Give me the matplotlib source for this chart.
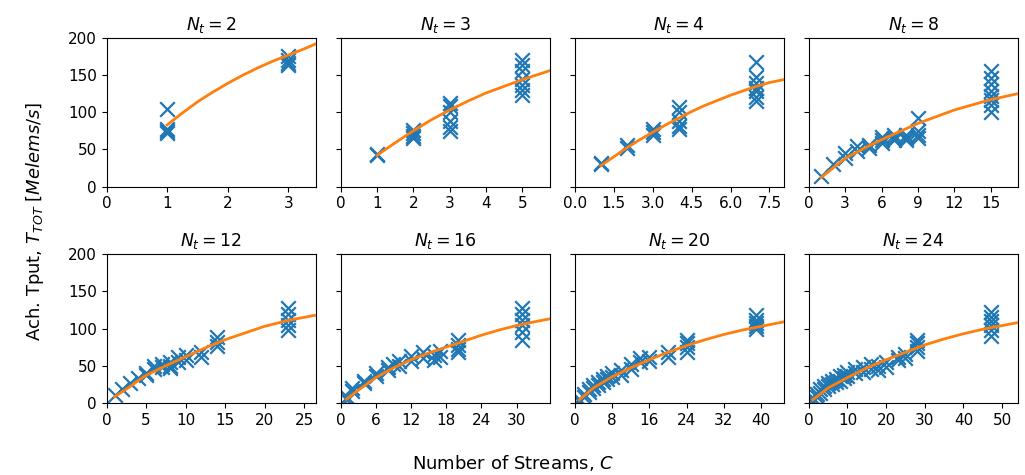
import matplotlib
matplotlib.use("Agg")
import matplotlib.pyplot as plt

# ---- data ----
threads = [2, 3, 4, 8, 12, 16, 20, 24]

C_nt2 = [1, 1, 1, 1, 3, 3, 3, 3]
T_nt2 = [104, 78, 75, 72, 176, 170, 166, 163]

C_nt3 = [1, 1, 2, 2, 2, 2, 3, 3, 3, 3, 3, 3, 5, 5, 5, 5, 5, 5, 5]
T_nt3 = [44, 42, 76, 72, 68, 65, 112, 108, 100, 88, 80, 75, 170, 163, 155, 145, 137, 130, 123]

C_nt4 = [1, 1, 2, 2, 3, 3, 3, 4, 4, 4, 4, 4, 7, 7, 7, 7, 7, 7, 7]
T_nt4 = [32, 30, 56, 52, 77, 73, 70, 107, 100, 88, 82, 78, 168, 148, 140, 133, 128, 120, 115]

C_nt8 = [1, 2, 3, 3, 4, 4, 5, 5, 6, 6, 6, 7, 7, 7, 8, 8, 8, 9, 9, 9, 9,
         15, 15, 15, 15, 15, 15, 15, 15]
T_nt8 = [14, 30, 45, 38, 54, 48, 56, 52, 67, 62, 59, 70, 66, 63, 70, 66, 62, 92, 75, 70, 65,
         155, 146, 138, 128, 122, 116, 110, 100]

C_nt12 = [1, 2, 3, 4, 5, 5, 6, 6, 7, 7, 8, 8, 8, 9, 9, 10, 10, 12, 12, 14, 14, 14,
          23, 23, 23, 23, 23]
T_nt12 = [10, 18, 27, 33, 40, 38, 50, 45, 52, 48, 55, 50, 47, 62, 55, 64, 58, 68, 62, 88, 82, 76,
          128, 120, 112, 105, 98]

C_nt16 = [1, 1, 2, 2, 4, 4, 6, 6, 8, 8, 9, 10, 10, 12, 12, 14, 14, 16, 16, 17, 17,
          20, 20, 20, 20, 31, 31, 31, 31, 31, 31]
T_nt16 = [8, 4, 20, 16, 30, 26, 40, 36, 48, 44, 52, 56, 50, 63, 56, 68, 60, 65, 58, 70, 62,
          85, 78, 72, 68, 128, 120, 112, 105, 95, 85]

C_nt20 = [1, 1, 2, 2, 3, 3, 4, 4, 5, 5, 6, 6, 7, 7, 8, 8, 10, 10, 12, 12, 14, 14, 16, 16,
          20, 20, 24, 24, 24, 24, 39, 39, 39, 39, 39]
T_nt20 = [5, 2, 12, 8, 18, 14, 24, 20, 28, 24, 32, 28, 36, 32, 40, 35, 44, 38, 52, 46, 60, 55,
          62, 56, 68, 62, 85, 80, 75, 68, 118, 112, 108, 104, 100]

C_nt24 = [1, 1, 2, 2, 3, 3, 4, 4, 5, 5, 6, 6, 7, 7, 8, 8, 9, 9, 10, 10, 12, 12, 14, 14,
          16, 16, 18, 18, 20, 20, 23, 23, 25, 25, 28, 28, 28, 28,
          47, 47, 47, 47, 47, 47]
T_nt24 = [6, 3, 12, 8, 18, 13, 22, 18, 26, 22, 30, 25, 32, 28, 36, 30, 38, 34, 42, 36,
          46, 40, 48, 42, 52, 46, 50, 44, 55, 48, 62, 58, 66, 60, 85, 80, 75, 70,
          122, 116, 110, 105, 98, 90]

# fitted curves
fitC_nt2 = [1, 1.25, 1.5, 1.75, 2, 2.25, 2.5, 2.75, 3, 3.25, 3.45]
fitT_nt2 = [83, 99, 114, 127, 139, 150, 160, 169, 177, 185, 192]
fitC_nt3 = [1, 1.5, 2, 2.5, 3, 3.5, 4, 4.5, 5, 5.5, 5.75]
fitT_nt3 = [42, 59, 75, 90, 103, 115, 126, 135, 144, 152, 156]
fitC_nt4 = [1, 1.5, 2, 2.5, 3, 3.5, 4, 4.5, 5, 5.5, 6, 6.5, 7, 7.5, 8.05]
fitT_nt4 = [28, 40, 52, 63, 73, 83, 92, 101, 109, 116, 123, 129, 135, 140, 144]
fitC_nt8 = [1, 2, 3, 4.5, 6, 7.5, 9, 10.5, 12, 13.5, 15, 17.25]
fitT_nt8 = [12, 25, 38, 51, 63, 74, 85, 94, 103, 110, 117, 125]
fitC_nt12 = [1, 2, 3, 4, 5, 7.5, 10, 12.5, 15, 17.5, 20, 23, 26.45]
fitT_nt12 = [8, 15, 22, 30, 37, 50, 62, 74, 85, 94, 103, 111, 118]
fitC_nt16 = [1, 3, 6, 9, 12, 15, 18, 21, 24, 27, 30, 33, 35.65]
fitT_nt16 = [5, 17, 34, 47, 58, 67, 75, 83, 91, 98, 104, 109, 113]
fitC_nt20 = [1, 4, 8, 12, 16, 20, 24, 28, 32, 36, 40, 44.85]
fitT_nt20 = [4, 20, 35, 47, 58, 68, 77, 85, 92, 98, 103, 109]
fitC_nt24 = [1, 5, 10, 15, 20, 25, 30, 35, 40, 45, 50, 54.05]
fitT_nt24 = [4, 20, 34, 47, 58, 68, 78, 86, 93, 99, 104, 108]

xlims = [3.45, 5.75, 8.05, 17.25, 26.45, 35.65, 44.85, 54.05]
xticks = [[0, 1, 2, 3], [0, 1, 2, 3, 4, 5], [0.0, 1.5, 3.0, 4.5, 6.0, 7.5],
          [0, 3, 6, 9, 12, 15], [0, 5, 10, 15, 20, 25], [0, 6, 12, 18, 24, 30],
          [0, 8, 16, 24, 32, 40], [0, 10, 20, 30, 40, 50]]
yticks = [0, 50, 100, 150, 200]

scatter_data = [(C_nt2, T_nt2), (C_nt3, T_nt3), (C_nt4, T_nt4), (C_nt8, T_nt8),
                (C_nt12, T_nt12), (C_nt16, T_nt16), (C_nt20, T_nt20), (C_nt24, T_nt24)]
fit_data = [(fitC_nt2, fitT_nt2), (fitC_nt3, fitT_nt3), (fitC_nt4, fitT_nt4), (fitC_nt8, fitT_nt8),
            (fitC_nt12, fitT_nt12), (fitC_nt16, fitT_nt16), (fitC_nt20, fitT_nt20),
            (fitC_nt24, fitT_nt24)]

fig, axes = plt.subplots(2, 4, figsize=(10.25, 4.75), dpi=100, sharey=True)
fig.subplots_adjust(left=0.104, right=0.993, top=0.92, bottom=0.152,
                    hspace=0.456, wspace=0.12)

for i, ax in enumerate(axes.flat):
    cx, ty = scatter_data[i]
    fx, fy = fit_data[i]
    ax.scatter(cx, ty, marker='x', s=110, color='tab:blue', linewidths=1.6, zorder=2)
    ax.plot(fx, fy, color='tab:orange', lw=2, zorder=3)
    ax.set_xlim(0, xlims[i])
    ax.set_ylim(0, 200)
    ax.set_xticks(xticks[i])
    ax.set_yticks(yticks)
    ax.set_title(r'$N_t = %d$' % threads[i], fontsize=12.5)
    ax.tick_params(labelsize=11)

fig.text(35 / 1025, 0.535, r'Ach. Tput, $T_{TOT}$ [$Melems/s$]', rotation=90,
         ha='center', va='center', fontsize=13)
fig.text(0.5, 2 / 475, r'Number of Streams, $C$', ha='center', va='bottom',
         fontsize=13)

fig.savefig('out.png', dpi=100)
